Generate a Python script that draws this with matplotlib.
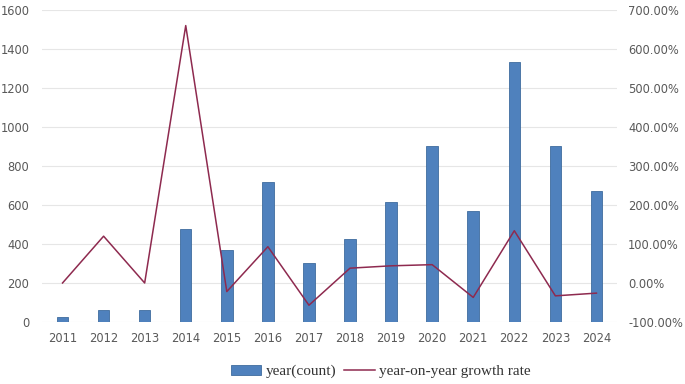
import matplotlib.pyplot as plt
import numpy as np
from matplotlib.ticker import FuncFormatter

years = ["2011", "2012", "2013", "2014", "2015", "2016", "2017",
         "2018", "2019", "2020", "2021", "2022", "2023", "2024"]
counts = [25, 60, 60, 475, 370, 720, 305, 425, 615, 905, 570, 1335, 900, 672]
growth = [0, 120, 0, 660, -22, 93, -57, 38, 44, 47, -37, 134, -33, -26]

fig = plt.figure(figsize=(6.85, 3.84), dpi=100)
ax = fig.add_axes([0.0613, 0.1615, 0.8394, 0.8125])
x = np.arange(len(years))

bars = ax.bar(x, counts, width=0.28, color="#4F81BD", edgecolor="#3F6C9E",
              linewidth=0.6, label="year(count)", zorder=2)
ax.set_ylim(0, 1600)
ax.set_yticks(range(0, 1601, 200))
ax.set_xlim(-0.5, len(years) - 0.5)
ax.set_xticks(x)
ax.set_xticklabels(years)
ax.grid(axis="y", color="#E6E6E6", linewidth=0.8, zorder=0)
ax.set_axisbelow(True)

ax2 = ax.twinx()
line, = ax2.plot(x, growth, color="#8E2A4F", linewidth=1.1,
                 label="year-on-year growth rate", zorder=3)
ax2.set_ylim(-100, 700)
ax2.set_yticks(range(-100, 701, 100))
ax2.yaxis.set_major_formatter(FuncFormatter(lambda v, _: f"{v:.2f}%"))

for a in (ax, ax2):
    for s in a.spines.values():
        s.set_visible(False)
    a.tick_params(length=0, colors="#595959", labelsize=8.3)
ax.tick_params(axis="x", pad=7)
ax.tick_params(axis="y", pad=9)
ax2.tick_params(axis="y", pad=8)

# 图例放在底部,稍偏右
fig.legend([bars, line], ["year(count)", "year-on-year growth rate"],
           loc="center", bbox_to_anchor=(0.556, 0.032), ncol=2, frameon=False,
           prop={"family": "Liberation Serif", "size": 11}, labelcolor="#333333",
           handlelength=2.0, handleheight=0.6, columnspacing=0.5,
           handletextpad=0.3)

fig.savefig("out.png", dpi=100)
